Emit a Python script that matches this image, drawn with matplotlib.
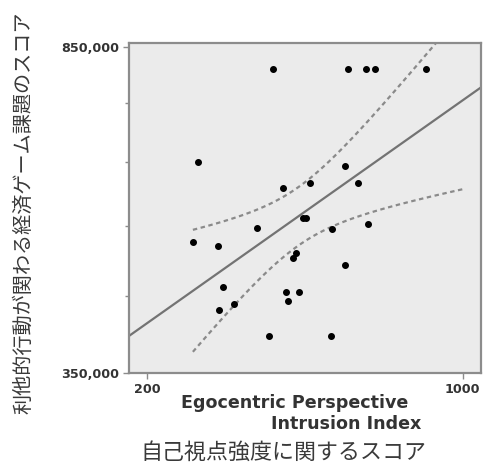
import numpy as np
import matplotlib
matplotlib.use("Agg")
import matplotlib.pyplot as plt

# scores
epi_index = [519, 710, 755, 778, 907, 329, 702, 734, 613, 544, 596, 603, 479, 668,
             759, 316, 379, 578, 571, 702, 393, 552, 586, 557, 419, 381, 508, 667]
game_score = [816000, 816000, 816000, 816000, 816000, 673000, 668000, 642000, 642000,
              633000, 587000, 588000, 572000, 571000, 578000, 551000, 544000, 534000,
              526000, 516000, 482000, 474000, 474000, 461000, 456000, 447000, 407000, 406000]

x_ticks = [200, 1000]
y_ticks = [350000, 850000]
y_minor = [468000, 575000, 673000, 764000]

x = np.array(epi_index, dtype=float)
y = np.array(game_score, dtype=float)

# linear fit + 95% confidence band for the mean
n = len(x)
slope, intercept = np.polyfit(x, y, 1)
resid = y - (slope * x + intercept)
s = np.sqrt(np.sum(resid ** 2) / (n - 2))
sxx = np.sum((x - x.mean()) ** 2)
t_crit = 2.056  # t(0.975, 26)

fig = plt.figure(figsize=(4.84, 4.67), dpi=100)
ax = fig.add_axes([0.2665, 0.2013, 0.727, 0.7067])
ax.set_facecolor("#ebebeb")

xlim = (154, 1046)
ylim = (350000, 856000)

xl = np.linspace(xlim[0], xlim[1], 50)
ax.plot(xl, slope * xl + intercept, color="#737373", lw=1.6, zorder=2)

xb = np.linspace(x.min(), 1000, 100)
half = t_crit * s * np.sqrt(1.0 / n + (xb - x.mean()) ** 2 / sxx)
fit_b = slope * xb + intercept
ax.plot(xb, fit_b + half, color="#8a8a8a", lw=1.6, linestyle=(0, (2, 1.6)), zorder=2)
ax.plot(xb, fit_b - half, color="#8a8a8a", lw=1.6, linestyle=(0, (2, 1.6)), zorder=2)

ax.scatter(x, y, s=16, color="black", zorder=3)

ax.set_xlim(*xlim)
ax.set_ylim(*ylim)
ax.set_xticks(x_ticks)
ax.set_xticklabels([str(v) for v in x_ticks])
ax.set_yticks(y_ticks)
ax.set_yticklabels(["{:,}".format(v) for v in y_ticks])
ax.set_yticks(y_minor, minor=True)

for sp in ax.spines.values():
    sp.set_color("#8c8c8c")
    sp.set_linewidth(1.6)

ax.tick_params(axis="both", which="major", length=4, width=1, color="#8c8c8c",
               labelsize=9.2, labelcolor="#333333", pad=3)
ax.tick_params(axis="y", which="minor", length=3, width=1, color="#8c8c8c")
for lab in ax.get_xticklabels() + ax.get_yticklabels():
    lab.set_fontweight("bold")

fig.text(0.609, 0.137, "Egocentric Perspective", ha="center", va="center",
         fontsize=12.6, fontweight="bold", color="#333333")
fig.text(0.715, 0.092, "Intrusion Index", ha="center", va="center",
         fontsize=12.6, fontweight="bold", color="#333333")

jp = ["Noto Sans CJK JP", "DejaVu Sans"]
fig.text(0.585, 0.03, "自己視点強度に関するスコア", ha="center", va="center",
         fontsize=15.8, color="#3a3a3a", family=jp)
fig.text(0.05, 0.545, "利他的行動が関わる経済ゲーム課題のスコア", ha="center", va="center",
         rotation=90, fontsize=14.5, color="#3a3a3a", family=jp)

fig.savefig("out.png", dpi=100)
